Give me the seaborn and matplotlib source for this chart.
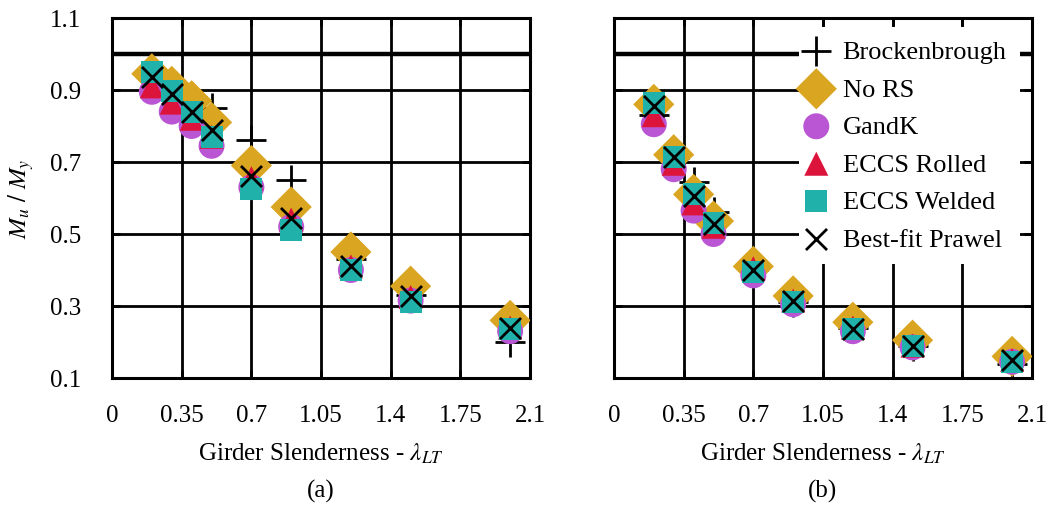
import numpy as np
import pandas as pd
import matplotlib
matplotlib.use('Agg')
import matplotlib.pyplot as plt
import seaborn as sns

# girder slenderness values
lam = [0.2, 0.3, 0.4, 0.5, 0.7, 0.9, 1.2, 1.5, 2.0]

# panel (a)
a_brock = [0.94, 0.90, 0.88, 0.85, 0.76, 0.65, 0.43, 0.33, 0.20]
a_nors = [0.945, 0.91, 0.87, 0.81, 0.69, 0.575, 0.45, 0.355, 0.26]
a_gandk = [0.895, 0.84, 0.80, 0.745, 0.63, 0.52, 0.40, 0.315, 0.23]
a_rolled = [0.91, 0.865, 0.82, 0.77, 0.655, 0.54, 0.41, 0.325, 0.24]
a_welded = [0.95, 0.897, 0.84, 0.77, 0.625, 0.51, 0.40, 0.31, 0.235]
a_prawel = [0.935, 0.89, 0.84, 0.79, 0.66, 0.545, 0.41, 0.328, 0.24]

# panel (b)
b_brock = [0.83, 0.71, 0.645, 0.56, 0.40, 0.31, 0.24, 0.19, 0.14]
b_nors = [0.86, 0.72, 0.61, 0.536, 0.41, 0.328, 0.255, 0.205, 0.16]
b_gandk = [0.805, 0.68, 0.565, 0.50, 0.385, 0.305, 0.23, 0.185, 0.145]
b_rolled = [0.83, 0.695, 0.585, 0.52, 0.405, 0.315, 0.24, 0.19, 0.15]
b_welded = [0.865, 0.715, 0.61, 0.53, 0.395, 0.31, 0.235, 0.19, 0.145]
b_prawel = [0.856, 0.714, 0.606, 0.528, 0.40, 0.314, 0.236, 0.19, 0.15]

names = ['Brockenbrough', 'No RS', 'GandK', 'ECCS Rolled', 'ECCS Welded', 'Best-fit Prawel']
styles = {
    'Brockenbrough': dict(marker='+', s=480, color='black', linewidth=2.0),
    'No RS': dict(marker='D', s=440, color='#DAA520', edgecolor='none', linewidth=0),
    'GandK': dict(marker='o', s=350, color='#BA55D3', edgecolor='none', linewidth=0),
    'ECCS Rolled': dict(marker='^', s=300, color='#DC143C', edgecolor='none', linewidth=0),
    'ECCS Welded': dict(marker='s', s=250, color='#20B2AA', edgecolor='none', linewidth=0),
    'Best-fit Prawel': dict(marker='x', s=230, color='black', linewidth=2.0),
}

sns.set_theme(style='ticks')
plt.rcParams['font.family'] = ['Liberation Serif', 'DejaVu Serif']
plt.rcParams['mathtext.fontset'] = 'stix'
plt.rcParams['text.color'] = 'black'
plt.rcParams['axes.labelcolor'] = 'black'
plt.rcParams['xtick.color'] = 'black'
plt.rcParams['ytick.color'] = 'black'

fig = plt.figure(figsize=(10.49, 5.06), dpi=100)
ax_a = fig.add_axes([0.1068, 0.251, 0.3985, 0.7115])
ax_b = fig.add_axes([0.5853, 0.251, 0.3985, 0.7115])

panels = [
    (ax_a, [a_brock, a_nors, a_gandk, a_rolled, a_welded, a_prawel], '(a)'),
    (ax_b, [b_brock, b_nors, b_gandk, b_rolled, b_welded, b_prawel], '(b)'),
]

for ax, series, tag in panels:
    ax.axhline(1.0, color='black', linewidth=3.2, zorder=1)
    for name, vals in zip(names, series):
        sns.scatterplot(x=lam, y=vals, ax=ax, label=name, zorder=3, **styles[name])
    ax.set_xlim(0, 2.1)
    ax.set_ylim(0.1, 1.1)
    ax.set_xticks([0, 0.35, 0.7, 1.05, 1.4, 1.75, 2.1])
    ax.set_xticklabels(['0', '0.35', '0.7', '1.05', '1.4', '1.75', '2.1'])
    ax.set_yticks([0.1, 0.3, 0.5, 0.7, 0.9, 1.1])
    ax.grid(True, color='black', linewidth=2.0, zorder=0)
    ax.set_axisbelow(True)
    for sp in ax.spines.values():
        sp.set_linewidth(2.2)
        sp.set_color('black')
    ax.tick_params(direction='in', length=6, width=2, top=True, right=True,
                   labelsize=18, pad=19, colors='black')
    ax.set_xlabel(r'Girder Slenderness - $\lambda_{LT}$', fontsize=18)
    ax.xaxis.set_label_coords(0.5, -0.175)
    ax.text(0.5, -0.28, tag, transform=ax.transAxes, ha='center', va='top', fontsize=18)
    ax.get_legend().remove()

ax_a.set_yticklabels(['0.1', '0.3', '0.5', '0.7', '0.9', '1.1'])
ax_a.set_ylabel(r'$M_u\ /\ M_y$', fontsize=18)
ax_a.yaxis.set_label_coords(-0.182, 0.5)
ax_a.tick_params(axis='y', pad=22)
ax_b.set_yticklabels([])

handles, labels = ax_b.get_legend_handles_labels()
leg = ax_b.legend(handles, labels, loc='upper right', bbox_to_anchor=(0.971, 0.976),
                  frameon=True, fancybox=False, framealpha=1, edgecolor='none',
                  facecolor='white', fontsize=19, handletextpad=0.85,
                  borderpad=0.5, labelspacing=0.53, handlelength=0.3,
                  borderaxespad=0.0, markerscale=1.0)
leg.set_zorder(5)

fig.savefig('out.png', dpi=100)
